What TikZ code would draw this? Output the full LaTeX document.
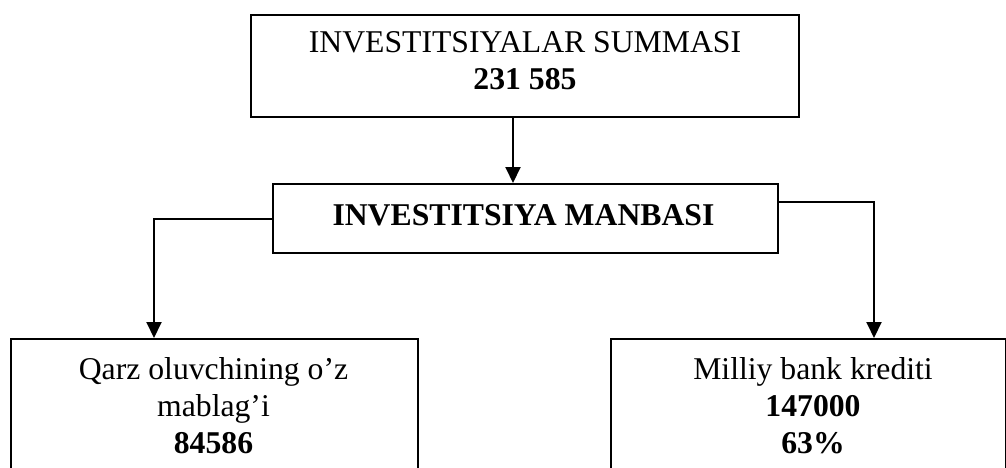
\documentclass[tikz,border=0pt]{standalone}
\usepackage{fontspec}
\setmainfont{Liberation Serif}
\usetikzlibrary{arrows.meta}
\tikzset{
  box/.style={draw=black, line width=2pt, rectangle, inner sep=0pt},
  txt/.style={inner sep=0pt, anchor=base, font=\fontsize{31.7pt}{37pt}\selectfont},
  btxt/.style={txt, font=\fontsize{31.7pt}{37pt}\selectfont\bfseries},
  arr/.style={line width=2pt, -{Triangle[width=15pt,length=16pt]}}
}
\begin{document}
\begin{tikzpicture}[x=1pt,y=-1pt]
\useasboundingbox (0,0) rectangle (1006,468);
\clip (0,0) rectangle (1006,468);
% boxes
\node[box, minimum width=548pt, minimum height=102pt] (top) at (525,66) {};
\node[box, minimum width=505pt, minimum height=69pt] (mid) at (525.5,218.5) {};
\node[box, minimum width=407pt, minimum height=200pt, anchor=north west] (left) at (10,338) {};
\node[box, minimum width=395pt, minimum height=200pt, anchor=north west] (right) at (609.5,338) {};
% texts
\node[txt] (t1) at (525,53) {INVESTITSIYALAR SUMMASI};
\node[btxt] (t2) at (525,90) {231 585};
\node[btxt] (m1) at (523.5,225) {INVESTITSIYA MANBASI};
\node[txt] (l1) at (213.5,379) {Qarz oluvchining o’z};
\node[txt] (l2) at (213.5,416) {mablag’i};
\node[btxt] (l3) at (213.5,453) {84586};
\node[txt] (r1) at (813,379) {Milliy bank krediti};
\node[btxt] (r2) at (813,416) {147000};
\node[btxt] (r3) at (813,453) {63\%};
% connectors
\draw[arr] ([xshift=-12pt]top.south) -- ([xshift=-12pt]top.south |- mid.north);
\draw[arr] (mid.west) -| ([xshift=-60.5pt]left.north);
\draw[arr] ([yshift=16.5pt]mid.east) -| (874,338);
\end{tikzpicture}
\end{document}
